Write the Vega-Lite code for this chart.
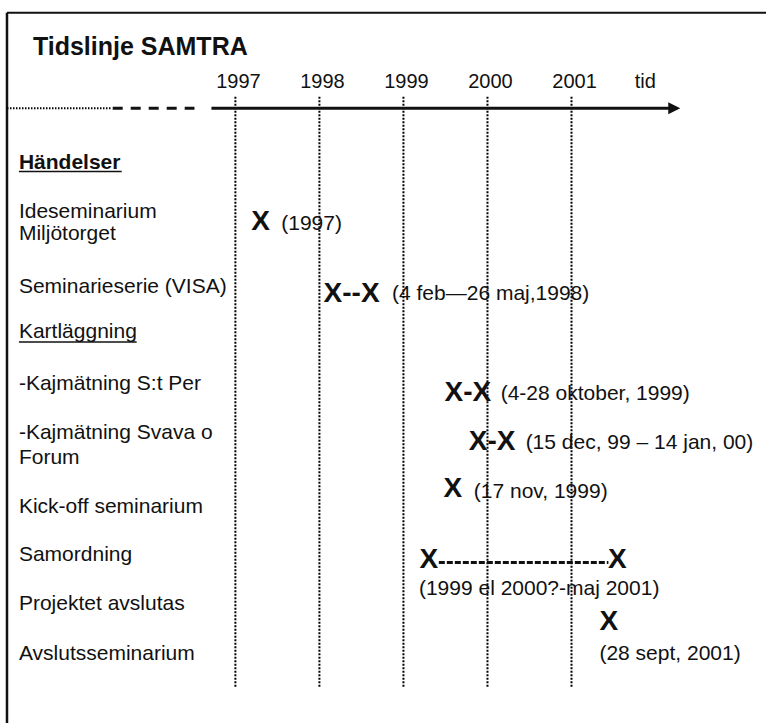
{
  "$schema": "https://vega.github.io/schema/vega-lite/v6.json",
  "width": 768,
  "height": 725,
  "autosize": {"type": "fit", "contains": "padding"},
  "padding": 0,
  "background": "white",
  "config": {"view": {"stroke": null}, "text": {"font": "Liberation Sans", "color": "#111", "baseline": "alphabetic"}},
  "datasets": {
    "hlines": [
      {"part": "frame", "x": 1994.282, "x2": 2003.315, "y": 0.51},
      {"part": "axisDotted", "x": 1994.282, "x2": 1995.528, "y": 4.34},
      {"part": "axisDashed", "x": 1995.54, "x2": 1996.513, "y": 4.34},
      {"part": "axisSolid", "x": 1996.715, "x2": 2002.18, "y": 4.34},
      {"part": "underline", "x": 1994.424, "x2": 1995.647, "y": 6.88},
      {"part": "underline", "x": 1994.424, "x2": 1995.825, "y": 13.72},
      {"part": "connector", "x": 1999.421, "x2": 2001.439, "y": 22.56}
    ],
    "vlines": [
      {"part": "frame", "x": 1994.282, "y": 0.51, "y2": 29},
      {"part": "year", "x": 1997, "y": 3.88, "y2": 27.56},
      {"part": "year", "x": 1998, "y": 3.88, "y2": 27.56},
      {"part": "year", "x": 1999, "y": 3.88, "y2": 27.56},
      {"part": "year", "x": 2000, "y": 3.88, "y2": 27.56},
      {"part": "year", "x": 2001, "y": 3.88, "y2": 27.56}
    ],
    "arrow": [{"x": 2002.223, "y": 4.34}],
    "texts": [
      {"role": "title", "x": 1994.5905, "y": 2.2, "t": "Tidslinje SAMTRA"},
      {"role": "head", "x": 1994.424, "y": 6.76, "t": "Händelser"},
      {"role": "year", "x": 1997, "y": 3.52, "t": "1997"},
      {"role": "year", "x": 1998, "y": 3.52, "t": "1998"},
      {"role": "year", "x": 1999, "y": 3.52, "t": "1999"},
      {"role": "year", "x": 2000, "y": 3.52, "t": "2000"},
      {"role": "year", "x": 2001, "y": 3.52, "t": "2001"},
      {"role": "year", "x": 2001.843, "y": 3.52, "t": "tid"},
      {"role": "label", "x": 1994.424, "y": 8.76, "t": "Ideseminarium"},
      {"role": "label", "x": 1994.424, "y": 9.64, "t": "Miljötorget"},
      {"role": "label", "x": 1994.424, "y": 11.76, "t": "Seminarieserie (VISA)"},
      {"role": "label", "x": 1994.424, "y": 13.56, "t": "Kartläggning"},
      {"role": "label", "x": 1994.424, "y": 15.64, "t": "-Kajmätning S:t Per"},
      {"role": "label", "x": 1994.424, "y": 17.6, "t": "-Kajmätning Svava o"},
      {"role": "label", "x": 1994.424, "y": 18.6, "t": "Forum"},
      {"role": "label", "x": 1994.424, "y": 20.56, "t": "Kick-off seminarium"},
      {"role": "label", "x": 1994.424, "y": 22.52, "t": "Samordning"},
      {"role": "label", "x": 1994.424, "y": 24.48, "t": "Projektet avslutas"},
      {"role": "label", "x": 1994.424, "y": 26.48, "t": "Avslutsseminarium"},
      {"role": "mark", "x": 1997.30, "y": 9.24, "t": "X"},
      {"role": "mark", "x": 1998.383, "y": 12.12, "t": "X--X"},
      {"role": "mark", "x": 1999.766, "y": 16.08, "t": "X-X"},
      {"role": "mark", "x": 2000.056, "y": 18.04, "t": "X-X"},
      {"role": "mark", "x": 1999.588, "y": 19.92, "t": "X"},
      {"role": "mark", "x": 1999.303, "y": 22.8, "t": "X"},
      {"role": "mark", "x": 2001.546, "y": 22.8, "t": "X"},
      {"role": "mark", "x": 2001.445, "y": 25.28, "t": "X"},
      {"role": "label", "x": 1997.546, "y": 9.24, "t": "(1997)"},
      {"role": "label", "x": 1998.864, "y": 12.04, "t": "(4 feb—26 maj,1998)"},
      {"role": "label", "x": 2000.157, "y": 16.04, "t": "(4-28 oktober, 1999)"},
      {"role": "label", "x": 2000.454, "y": 18.0, "t": "(15 dec, 99 – 14 jan, 00)"},
      {"role": "label", "x": 1999.837, "y": 19.96, "t": "(17 nov, 1999)"},
      {"role": "label", "x": 1999.184, "y": 23.88, "t": "(1999 el 2000?-maj 2001)"},
      {"role": "label", "x": 2001.332, "y": 26.48, "t": "(28 sept, 2001)"}
    ]
  },
  "encoding": {
    "x": {"field": "x", "type": "quantitative", "axis": null, "scale": {"domain": [1994.19881, 2003.31454], "nice": false, "zero": false}},
    "y": {"field": "y", "type": "quantitative", "axis": null, "scale": {"domain": [0, 29], "nice": false, "zero": false, "reverse": true}}
  },
  "layer": [
    {
      "data": {"name": "vlines"},
      "transform": [{"filter": "datum.part === 'year'"}],
      "mark": {"type": "rule", "color": "#000", "strokeWidth": 2, "strokeDash": [2, 1.5]},
      "encoding": {"y2": {"field": "y2"}}
    },
    {
      "data": {"name": "vlines"},
      "transform": [{"filter": "datum.part === 'frame'"}],
      "mark": {"type": "rule", "color": "#111", "strokeWidth": 2.5},
      "encoding": {"y2": {"field": "y2"}}
    },
    {
      "data": {"name": "hlines"},
      "transform": [{"filter": "datum.part === 'frame'"}],
      "mark": {"type": "rule", "color": "#111", "strokeWidth": 2},
      "encoding": {"x2": {"field": "x2"}}
    },
    {
      "data": {"name": "hlines"},
      "transform": [{"filter": "datum.part === 'axisDotted'"}],
      "mark": {"type": "rule", "color": "#000", "strokeWidth": 2, "strokeDash": [1.5, 1.5]},
      "encoding": {"x2": {"field": "x2"}}
    },
    {
      "data": {"name": "hlines"},
      "transform": [{"filter": "datum.part === 'axisDashed'"}],
      "mark": {"type": "rule", "color": "#111", "strokeWidth": 3, "strokeDash": [10, 8]},
      "encoding": {"x2": {"field": "x2"}}
    },
    {
      "data": {"name": "hlines"},
      "transform": [{"filter": "datum.part === 'axisSolid'"}],
      "mark": {"type": "rule", "color": "#111", "strokeWidth": 3},
      "encoding": {"x2": {"field": "x2"}}
    },
    {
      "data": {"name": "hlines"},
      "transform": [{"filter": "datum.part === 'underline'"}],
      "mark": {"type": "rule", "color": "#111", "strokeWidth": 1.5},
      "encoding": {"x2": {"field": "x2"}}
    },
    {
      "data": {"name": "hlines"},
      "transform": [{"filter": "datum.part === 'connector'"}],
      "mark": {"type": "rule", "color": "#111", "strokeWidth": 3, "strokeDash": [6, 2]},
      "encoding": {"x2": {"field": "x2"}}
    },
    {
      "data": {"name": "arrow"},
      "mark": {"type": "point", "shape": "M-1,-1L1,0L-1,1Z", "filled": true, "color": "#111", "size": 144, "opacity": 1},
      "encoding": {}
    },
    {
      "data": {"name": "texts"},
      "transform": [{"filter": "datum.role === 'title'"}],
      "mark": {"type": "text", "align": "left", "fontSize": 25, "fontWeight": "bold"},
      "encoding": {"text": {"field": "t"}}
    },
    {
      "data": {"name": "texts"},
      "transform": [{"filter": "datum.role === 'head'"}],
      "mark": {"type": "text", "align": "left", "fontSize": 21, "fontWeight": "bold"},
      "encoding": {"text": {"field": "t"}}
    },
    {
      "data": {"name": "texts"},
      "transform": [{"filter": "datum.role === 'label'"}],
      "mark": {"type": "text", "align": "left", "fontSize": 21},
      "encoding": {"text": {"field": "t"}}
    },
    {
      "data": {"name": "texts"},
      "transform": [{"filter": "datum.role === 'year'"}],
      "mark": {"type": "text", "align": "center", "fontSize": 20, "dx": 3},
      "encoding": {"text": {"field": "t"}}
    },
    {
      "data": {"name": "texts"},
      "transform": [{"filter": "datum.role === 'mark'"}],
      "mark": {"type": "text", "align": "center", "fontSize": 28, "fontWeight": "bold"},
      "encoding": {"text": {"field": "t"}}
    }
  ]
}
